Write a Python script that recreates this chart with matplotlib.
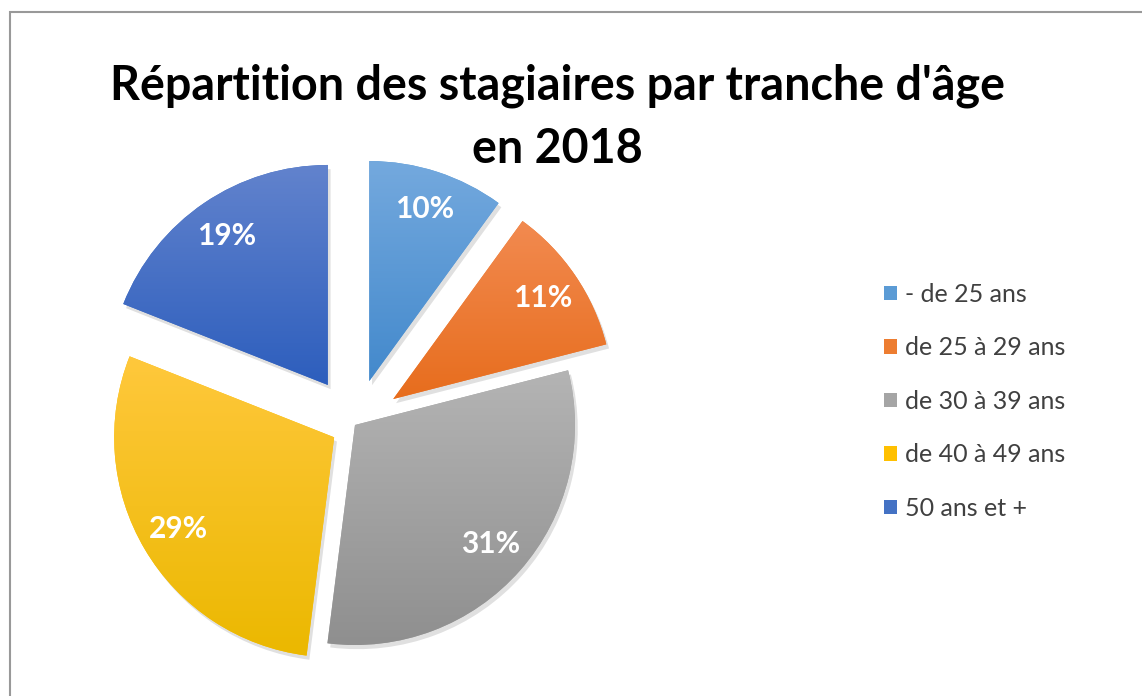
import numpy as np
import matplotlib
matplotlib.use("Agg")
import matplotlib.pyplot as plt
import matplotlib.patheffects as pe
from matplotlib.colors import LinearSegmentedColormap
from matplotlib.patches import Patch, Rectangle

plt.rcParams['font.family'] = ['Lato', 'DejaVu Sans']

# data
categories = ["- de 25 ans", "de 25 à 29 ans", "de 30 à 39 ans", "de 40 à 49 ans", "50 ans et +"]
shares = [10, 11, 31, 29, 19]

# style
explode = [0.21, 0.21, 0.0, 0.11, 0.22]
top_colors = ["#74a9de", "#f28a50", "#b4b4b4", "#ffc83c", "#6283cd"]
bottom_colors = ["#4389cc", "#e76d1d", "#8f8f8f", "#ebb800", "#2d5ebd"]
mid_colors = ["#5b9bd5", "#ed7d31", "#a5a5a5", "#ffc000", "#4472c4"]

W, H = 1142, 696
fig = plt.figure(figsize=(W / 100, H / 100), dpi=100)

# pie axes: 220 px per data unit, pie centre at pixel (355, 425)
R, CX, CY, TOP = 220.0, 355.0, 425.0, 140.0
ax = fig.add_axes([0, 0, 2 * CX / W, (H - TOP) / H])

wedges, texts, autotexts = ax.pie(
    shares, explode=explode, startangle=90, counterclock=False,
    colors=mid_colors, autopct='%1.0f%%', pctdistance=0.82,
    textprops=dict(color='white', fontsize=21.5, fontweight='bold'),
    wedgeprops=dict(linewidth=0),
)

grad = np.linspace(1, 0, 256).reshape(-1, 1)
for w, c_top, c_bot in zip(wedges, top_colors, bottom_colors):
    w.set_path_effects([pe.SimplePatchShadow(offset=(2, -3), shadow_rgbFace='k', alpha=0.12),
                        pe.Normal()])
    ext = w.get_path().get_extents()
    cmap = LinearSegmentedColormap.from_list("g", [c_bot, c_top])
    im = ax.imshow(grad, cmap=cmap, extent=(ext.x0, ext.x1, ext.y0, ext.y1),
                   aspect='auto', zorder=1.5, interpolation='bilinear')
    im.set_clip_path(w)

ax.set_aspect('auto')
ax.set_xlim(-CX / R, CX / R)
ax.set_ylim((CY - H) / R, (CY - TOP) / R)
ax.axis('off')

# title
fig.text(557 / W, 1 - 100 / H, "Répartition des stagiaires par tranche d'âge",
         ha='center', va='baseline', fontsize=33.6, fontweight='bold', color='black')
fig.text(557 / W, 1 - 163 / H, "en 2018",
         ha='center', va='baseline', fontsize=33.6, fontweight='bold', color='black')

# legend
handles = [Patch(facecolor=c, edgecolor='none') for c in mid_colors]
fig.legend(handles, categories, loc='upper left', bbox_to_anchor=(884 / W, 1 - 283 / H),
           frameon=False, fontsize=18, labelcolor='#404040', borderpad=0,
           handlelength=0.52, handleheight=0.52, handletextpad=0.32, labelspacing=1.22,
           borderaxespad=0)

# chart border
fig.patches.append(Rectangle((9.5 / W, -0.1), 2.0, 1.1 - 11.5 / H, transform=fig.transFigure,
                             fill=False, edgecolor='#999999', linewidth=1.5))

fig.savefig("out.png", dpi=100, facecolor='white')
